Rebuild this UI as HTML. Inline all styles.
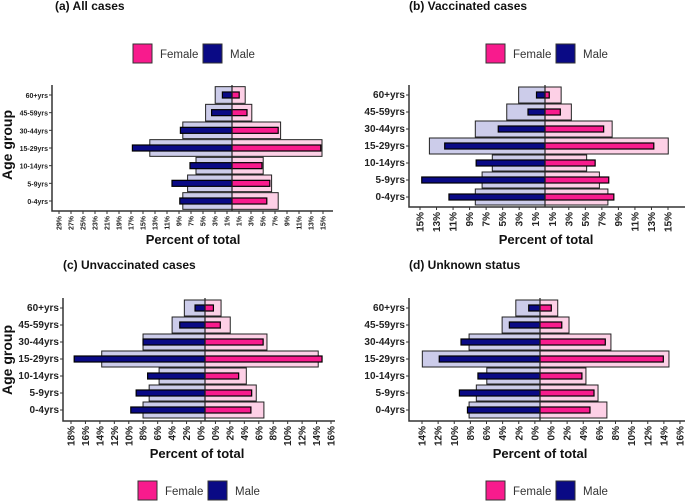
<!DOCTYPE html>
<html><head><meta charset="utf-8"><style>
body{margin:0;background:#fff}
svg{display:block;font-family:"Liberation Sans",sans-serif}
</style></head><body>
<svg id="s" width="685" height="501" viewBox="0 0 685 501"></svg>
<script>
const ageGroups=["0-4yrs","5-9yrs","10-14yrs","15-29yrs","30-44yrs","45-59yrs","60+yrs"];
// panel a
const aMaleBg=[8.2,7.4,6,13.7,8.2,4.4,2.8];
const aFemaleBg=[7.7,6.6,5.2,15,8.1,3.3,2.2];
const aMale=[8.7,10,7,16.6,8.6,3.4,1.6];
const aFemale=[5.8,6.3,5,14.8,7.7,2.5,1.2];
const aTicksLeft=["29%","27%","25%","23%","21%","19%","17%","15%","13%","11%","9%","7%","5%","3%","1%"];
const aTicksRight=["1%","3%","5%","7%","9%","11%","13%","15%"];
// panel b
const bMaleBg=[8.2,7.4,6.2,13.6,8.2,4.5,3.1];
const bFemaleBg=[7.4,6.4,4.9,14.5,7.9,3.1,1.9];
const bMale=[11.3,14.5,8.1,11.8,5.5,2,1];
const bFemale=[8.1,7.5,5.9,12.8,6.9,1.8,0.5];
const bTicksLeft=["15%","13%","11%","9%","7%","5%","3%","1%"];
const bTicksRight=["1%","3%","5%","7%","9%","11%","13%","15%"];
// panel c
const cMaleBg=[8.1,7.3,6,13.5,8.1,4.3,2.7];
const cFemaleBg=[7.7,6.7,5.4,14.8,8.1,3.3,2.1];
const cMale=[9.7,9,7.5,17.1,8.1,3.3,1.3];
const cFemale=[6,6.1,4.4,15.3,7.6,2,1.1];
const cTicksLeft=["18%","16%","14%","12%","10%","8%","6%","4%","2%","0%"];
const cTicksRight=["0%","2%","4%","6%","8%","10%","12%","14%","16%"];
// panel d
const dMaleBg=[8.8,7.9,6.6,14.6,8.8,4.7,3];
const dFemaleBg=[8.3,7.2,5.7,16,8.8,3.6,2.2];
const dMale=[9,10,7.7,12.5,9.8,3.8,1.4];
const dFemale=[6.2,6.7,5.2,15.3,8.1,2.7,1.4];
const dTicksLeft=["14%","12%","10%","8%","6%","4%","2%","0%"];
const dTicksRight=["0%","2%","4%","6%","8%","10%","12%","14%","16%"];

const svg=document.getElementById('s');
const NS="http://www.w3.org/2000/svg";
function mk(tag,attrs,parent,text){const e=document.createElementNS(NS,tag);for(const k in attrs)e.setAttribute(k,attrs[k]);if(text!==undefined)e.textContent=text;(parent||svg).appendChild(e);return e;}

function panel(p){
  const g=mk('g',{});
  
  
  const t=mk('text',{x:p.titleX,y:p.titleY,'font-size':12,'font-weight':'bold',fill:'#111'},g,p.title);
  
  
  const xs=v=>p.cx+v*p.scale;
  const step=(p.y0-p.y6)/6;
  const ys=i=>p.y0-i*step;
  const bgH=step-1, fgH=6;
  for(let i=0;i<ageGroups.length;i++){
    const y=ys(i);
    const r1=mk('rect',{x:xs(-p.maleBg[i]),y:y-bgH/2,width:p.maleBg[i]*p.scale,height:bgH,fill:'#ccccea',stroke:'#222','stroke-width':1},g);
    
    
    const r2=mk('rect',{x:p.cx,y:y-bgH/2,width:p.femaleBg[i]*p.scale,height:bgH,fill:'#fdd0e6',stroke:'#222','stroke-width':1},g);
    
    
  }
  for(let i=0;i<ageGroups.length;i++){
    const y=ys(i);
    const r1=mk('rect',{x:xs(-p.male[i]),y:y-fgH/2,width:p.male[i]*p.scale,height:fgH,fill:'#0a0a85',stroke:'#000','stroke-width':1.2},g);
    
    
    const r2=mk('rect',{x:p.cx,y:y-fgH/2,width:p.female[i]*p.scale,height:fgH,fill:'#f81b8d',stroke:'#000','stroke-width':1.2},g);
    
    
    const lb=mk('text',{x:p.axL-4,y:y+3,'font-size':p.yfs,'font-weight':'bold','text-anchor':'end',fill:'#222'},g,ageGroups[i]);
    
    
    mk('line',{x1:p.axL-3,x2:p.axL,y1:y,y2:y,stroke:'#333'},g);
  }
  mk('line',{x1:p.cx,x2:p.cx,y1:p.top,y2:p.bot,stroke:'#222','stroke-width':1.2},g);
  const ax=mk('path',{d:`M${p.axL},${p.top}V${p.bot}H${p.axR}`,fill:'none',stroke:'#333','stroke-width':1.5},g);
  
  
  const labels=p.ticksL.concat(p.ticksR);
  const n=labels.length;
  for(let i=0;i<n;i++){
    const x=p.tx0+(p.tx1-p.tx0)*i/(n-1);
    mk('line',{x1:x,x2:x,y1:p.bot,y2:p.bot+3,stroke:'#333'},g);
    const tl=mk('text',{x:0,y:0,transform:`translate(${x+p.xfs*0.35},${p.bot+5}) rotate(-90)`,'font-size':p.xfs,'font-weight':'bold','text-anchor':'end',fill:'#222'},g,labels[i]);
    
    
  }
  const xt=mk('text',{x:p.xtX,y:p.xtY,'font-size':13,'font-weight':'bold','text-anchor':'middle',fill:'#111'},g,'Percent of total');
  
  
  if(p.yt){
    const yt=mk('text',{x:0,y:0,transform:`translate(${p.yt[0]},${p.yt[1]}) rotate(-90)`,'font-size':14,'font-weight':'bold','text-anchor':'middle',fill:'#111'},g,'Age group');
    
    
  }
  const lg=mk('g',{},g);
  
  
  const [lx,ly]=p.leg;
  const s1=mk('rect',{x:lx,y:ly,width:19,height:19,fill:'#f81b8d',stroke:'#333'},lg);
  
  
  mk('text',{x:lx+27,y:ly+14,'font-size':11.5,fill:'#333'},lg,'Female');
  const s2=mk('rect',{x:lx+70,y:ly,width:19,height:19,fill:'#0a0a85',stroke:'#333'},lg);
  
  
  mk('text',{x:lx+97,y:ly+14,'font-size':11.5,fill:'#333'},lg,'Male');
}

panel({id:'all-cases',title:'(a) All cases',titleX:55,titleY:10,cx:232,scale:6,y0:201,y6:95,top:85,bot:211,axL:52,axR:333,
  maleBg:aMaleBg,femaleBg:aFemaleBg,male:aMale,female:aFemale,ticksL:aTicksLeft,ticksR:aTicksRight,tx0:59,tx1:323,
  yfs:7,xfs:7,xtX:193,xtY:244,yt:[12,145],leg:[133,44]});
panel({id:'vaccinated',title:'(b) Vaccinated cases',titleX:409,titleY:10,cx:545,scale:8.5,y0:197,y6:95,top:85,bot:207,axL:409,axR:685,
  maleBg:bMaleBg,femaleBg:bFemaleBg,male:bMale,female:bFemale,ticksL:bTicksLeft,ticksR:bTicksRight,tx0:420,tx1:668,
  yfs:10,xfs:10,xtX:546,xtY:244,yt:null,leg:[486,44]});
panel({id:'unvaccinated',title:'(c) Unvaccinated cases',titleX:63,titleY:269,cx:205,scale:7.65,y0:410,y6:308,top:298,bot:421,axL:63,axR:335,
  maleBg:cMaleBg,femaleBg:cFemaleBg,male:cMale,female:cFemale,ticksL:cTicksLeft,ticksR:cTicksRight,tx0:71,tx1:331,
  yfs:10,xfs:10,xtX:197,xtY:458,yt:[12,360],leg:[138,481]});
panel({id:'unknown-status',title:'(d) Unknown status',titleX:409,titleY:269,cx:540,scale:8.06,y0:410,y6:308,top:298,bot:421,axL:409,axR:685,
  maleBg:dMaleBg,femaleBg:dFemaleBg,male:dMale,female:dFemale,ticksL:dTicksLeft,ticksR:dTicksRight,tx0:422,tx1:680,
  yfs:10,xfs:10,xtX:540,xtY:458,yt:null,leg:[486,481]});
</script>
</body></html>
